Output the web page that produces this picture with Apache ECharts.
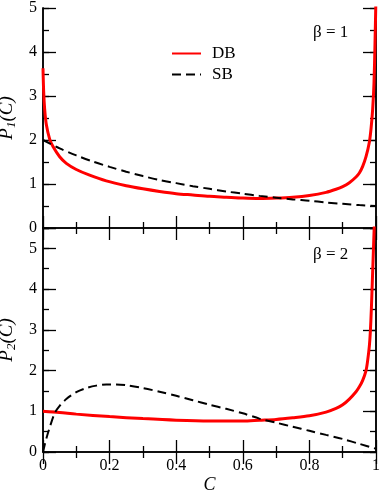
<!DOCTYPE html>
<html>
<head>
<meta charset="utf-8">
<script src="https://cdn.jsdelivr.net/npm/echarts@6/dist/echarts.min.js"></script>
<style>
  html, body { margin: 0; padding: 0; background: #fff; }
  #main { width: 382px; height: 491px; }
</style>
</head>
<body>
<div id="main"></div>
<script>
// beta = 1 panel
const cTopDB = [0, 0.002, 0.005, 0.01, 0.02, 0.03, 0.05, 0.07, 0.1, 0.14, 0.19, 0.25, 0.3, 0.35, 0.4, 0.45, 0.5, 0.55, 0.6, 0.65, 0.7, 0.75, 0.8, 0.85, 0.88, 0.9, 0.92, 0.94, 0.95, 0.96, 0.97, 0.98, 0.985, 0.99, 0.994, 0.997, 1.0];
const topDB  = [3.63, 3.1, 2.7, 2.35, 2.02, 1.85, 1.62, 1.47, 1.33, 1.2, 1.07, 0.96, 0.89, 0.83, 0.78, 0.75, 0.72, 0.7, 0.68, 0.67, 0.68, 0.7, 0.74, 0.81, 0.88, 0.94, 1.03, 1.16, 1.25, 1.4, 1.62, 1.95, 2.25, 2.7, 3.3, 4.2, 5.3];
const cTopSB = [0, 0.05, 0.1, 0.15, 0.2, 0.25, 0.3, 0.35, 0.4, 0.45, 0.5, 0.55, 0.6, 0.65, 0.7, 0.75, 0.8, 0.85, 0.9, 0.95, 1.0];
const topSB  = [2.0, 1.81, 1.65, 1.51, 1.39, 1.28, 1.18, 1.09, 1.02, 0.95, 0.89, 0.83, 0.78, 0.73, 0.69, 0.65, 0.62, 0.58, 0.55, 0.52, 0.5];

// beta = 2 panel
const cBotDB = [0, 0.05, 0.1, 0.2, 0.3, 0.4, 0.5, 0.6, 0.65, 0.7, 0.75, 0.8, 0.85, 0.88, 0.9, 0.92, 0.94, 0.95, 0.96, 0.97, 0.975, 0.98, 0.983, 0.986, 0.989, 0.992, 0.995];
const botDB  = [1.0, 0.97, 0.93, 0.87, 0.82, 0.78, 0.76, 0.76, 0.78, 0.8, 0.84, 0.89, 0.98, 1.07, 1.16, 1.3, 1.48, 1.6, 1.76, 2.0, 2.25, 2.6, 2.95, 3.5, 4.2, 4.9, 5.6];
const cBotSB = [0, 0.01, 0.02, 0.035, 0.05, 0.07, 0.1, 0.13, 0.16, 0.19, 0.22, 0.25, 0.3, 0.35, 0.4, 0.45, 0.5, 0.55, 0.6, 0.65, 0.7, 0.75, 0.8, 0.85, 0.9, 0.95, 1.0];
const botSB  = [0, 0.33, 0.6, 0.95, 1.13, 1.3, 1.47, 1.57, 1.63, 1.66, 1.66, 1.64, 1.57, 1.48, 1.38, 1.27, 1.16, 1.06, 0.95, 0.82, 0.72, 0.62, 0.52, 0.42, 0.32, 0.2, 0.08];

const xTicks = [0, 0.2, 0.4, 0.6, 0.8, 1];
const yTicks = [0, 1, 2, 3, 4, 5];

const FONT = 'Liberation Serif';
const pairs = (xs, ys) => xs.map((x, i) => [x, ys[i]]);

const chart = echarts.init(document.getElementById('main'));

const line = { lineStyle: { color: '#000', width: 1.5 } };

function xAx(grid, pos, labels, name) {
  return {
    type: 'value', gridIndex: grid, position: pos, min: 0, max: 1, interval: 0.2,
    axisLine: line, splitLine: { show: false },
    axisTick: { inside: true, length: 12, lineStyle: { color: '#000', width: 1.3 } },
    minorTick: { show: true, splitNumber: 2, length: 6, lineStyle: { color: '#000', width: 1.3 } },
    axisLabel: { show: labels, color: '#000', fontFamily: FONT, fontSize: 16, margin: 6 },
    name: name || '', nameLocation: 'middle', nameGap: 24,
    nameTextStyle: { color: '#000', fontFamily: FONT, fontSize: 18, fontStyle: 'italic' }
  };
}

function yAx(grid, pos, max, major, name) {
  const o = {
    type: 'value', gridIndex: grid, position: pos, min: 0, max: max,
    interval: major ? 1 : 0.5,
    axisLine: line, splitLine: { show: false },
    axisTick: { inside: true, length: major ? 13 : 6, lineStyle: { color: '#000', width: 1.3 } },
    axisLabel: {
      show: major && pos === 'left', color: '#000', fontFamily: FONT, fontSize: 16, margin: 6,
      formatter: v => (yTicks.indexOf(v) >= 0 ? String(v) : '')
    }
  };
  if (name) {
    o.name = '{a|P}{b|' + name + '}{a|(C)}';
    o.nameLocation = 'middle';
    o.nameGap = 19;
    o.nameRotate = 90;
    o.nameTextStyle = {
      rich: {
        a: { color: '#000', fontFamily: FONT, fontSize: 19, fontStyle: 'italic' },
        b: { color: '#000', fontFamily: FONT, fontSize: 13, fontStyle: 'italic', verticalAlign: 'bottom', padding: [9, 0, 0, 0] }
      }
    };
  }
  return o;
}

const option = {
  animation: false,
  backgroundColor: '#fff',
  grid: [
    { left: 43, top: 8, width: 333, height: 220, containLabel: false, outerBoundsMode: 'none' },
    { left: 43, top: 228, width: 333, height: 224, containLabel: false, outerBoundsMode: 'none' }
  ],
  xAxis: [
    xAx(0, 'bottom', false), xAx(0, 'top', false),
    xAx(1, 'bottom', true, 'C'), xAx(1, 'top', false)
  ],
  yAxis: [
    yAx(0, 'left', 5, true, '1'), yAx(0, 'left', 5, false), yAx(0, 'right', 5, true), yAx(0, 'right', 5, false),
    yAx(1, 'left', 5.5, true, '2'), yAx(1, 'left', 5.5, false), yAx(1, 'right', 5.5, true), yAx(1, 'right', 5.5, false)
  ],
  legend: {
    orient: 'vertical', left: 166, top: 40, itemWidth: 29, itemHeight: 12, itemGap: 4,
    itemStyle: { opacity: 0 },
    textStyle: { color: '#000', fontFamily: FONT, fontSize: 17, padding: [0, 0, 0, 6] },
    data: ['DB', 'SB']
  },
  graphic: [
    { type: 'text', left: 313, top: 24, style: { text: 'β = 1', fill: '#000', font: '17px "Liberation Serif"' } },
    { type: 'text', left: 313, top: 246, style: { text: 'β = 2', fill: '#000', font: '17px "Liberation Serif"' } }
  ],
  series: [
    { name: 'DB', type: 'line', xAxisIndex: 0, yAxisIndex: 0, data: pairs(cTopDB, topDB), symbol: 'none', smooth: 0.3, lineStyle: { color: '#ff0000', width: 3 }, itemStyle: { color: '#ff0000' } },
    { name: 'SB', type: 'line', xAxisIndex: 0, yAxisIndex: 0, data: pairs(cTopSB, topSB), symbol: 'none', smooth: 0.3, lineStyle: { color: '#000', width: 2, type: [9, 5] }, itemStyle: { color: '#000' } },
    { name: 'DB', type: 'line', xAxisIndex: 2, yAxisIndex: 4, data: pairs(cBotDB, botDB), symbol: 'none', smooth: 0.3, lineStyle: { color: '#ff0000', width: 3 }, itemStyle: { color: '#ff0000' } },
    { name: 'SB', type: 'line', xAxisIndex: 2, yAxisIndex: 4, data: pairs(cBotSB, botSB), symbol: 'none', smooth: 0.3, lineStyle: { color: '#000', width: 2, type: [9, 5] }, itemStyle: { color: '#000' } }
  ]
};

chart.setOption(option);
</script>
</body>
</html>
